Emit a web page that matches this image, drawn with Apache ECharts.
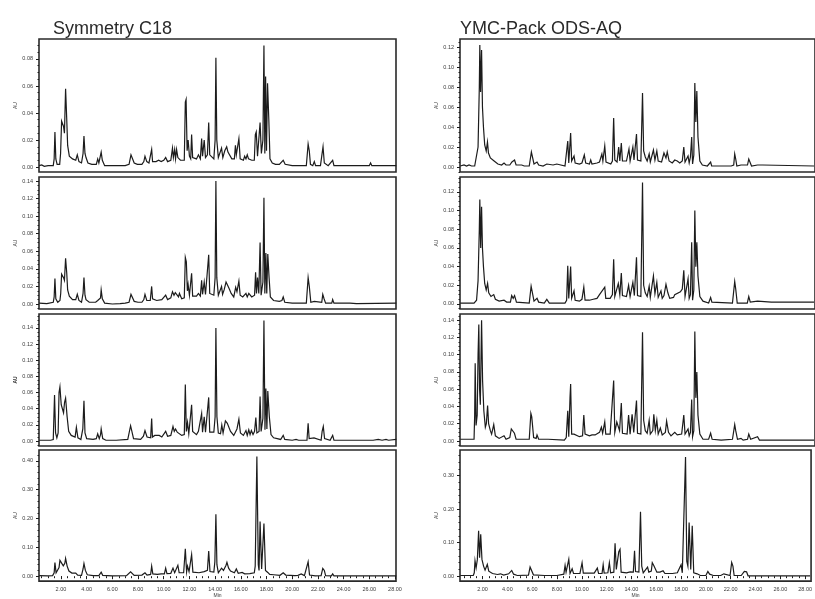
<!DOCTYPE html>
<html><head><meta charset="utf-8">
<style>html,body{margin:0;padding:0;background:#fff;overflow:hidden}#c{width:815px;height:599px}</style>
<script src="https://cdn.jsdelivr.net/npm/echarts@6/dist/echarts.min.js"></script>
</head><body><div id="c"></div>
<script>
const titles = ['Symmetry C18', 'YMC-Pack ODS-AQ'];
const timeTicks = [2,4,6,8,10,12,14,16,18,20,22,24,26,28];
const ticksA = [0,0.02,0.04,0.06,0.08];
const ticksB = [0,0.02,0.04,0.06,0.08,0.10,0.12,0.14];
const ticksC = [0,0.02,0.04,0.06,0.08,0.10,0.12];
const ticksD = [0,0.10,0.20,0.30,0.40];
const ticksE = [0,0.10,0.20,0.30];

const symmetryA = [[0.3,.001],[0.5,.0015],[0.7,.0005],[1.0,.001],[1.4,.001],[1.47,.006],[1.53,.026],[1.6,.006],[1.7,.002],[1.9,.002],[1.97,.01],[2.05,.034],[2.2,.03],[2.27,.025],[2.36,.058],[2.45,.035],[2.52,.016],[2.65,.008],[2.9,.006],[3.15,.005],[3.27,.009],[3.4,.004],[3.6,.003],[3.72,.01],[3.79,.023],[3.87,.01],[3.95,.007],[4.1,.003],[4.4,.002],[4.75,.002],[4.86,.006],[4.95,.003],[5.05,.004],[5.13,.011],[5.22,.005],[5.4,.001],[6.0,.001],[6.5,.001],[7.0,.001],[7.3,.002],[7.45,.009],[7.55,.01],[7.7,.003],[7.95,.002],[8.3,.002],[8.45,.004],[8.54,.008],[8.68,.004],[8.85,.003],[9.0,.004],[9.06,.013],[9.13,.004],[9.4,.004],[9.6,.005],[9.8,.004],[10.0,.005],[10.15,.007],[10.3,.004],[10.55,.005],[10.68,.014],[10.75,.007],[10.85,.013],[10.92,.006],[11.0,.013],[11.1,.007],[11.3,.005],[11.6,.005],[11.68,.048],[11.74,.05],[11.82,.012],[11.9,.02],[12.0,.008],[12.1,.006],[12.17,.024],[12.25,.007],[12.55,.006],[12.7,.009],[12.85,.006],[12.95,.021],[13.02,.008],[13.15,.02],[13.25,.007],[13.4,.009],[13.5,.033],[13.58,.009],[13.9,.006],[14.0,.02],[14.06,.081],[14.13,.02],[14.25,.007],[14.4,.006],[14.5,.014],[14.6,.007],[14.75,.012],[14.9,.015],[15.0,.011],[15.1,.012],[15.3,.006],[15.5,.006],[15.58,.016],[15.65,.009],[15.75,.01],[15.85,.021],[15.95,.006],[16.2,.005],[16.3,.008],[16.4,.006],[16.5,.009],[16.6,.006],[16.7,.007],[16.85,.005],[17.05,.005],[17.13,.024],[17.2,.026],[17.3,.008],[17.42,.009],[17.5,.033],[17.6,.01],[17.72,.02],[17.8,.09],[17.87,.01],[17.93,.067],[18.0,.012],[18.08,.062],[18.18,.035],[18.27,.006],[18.45,.003],[18.7,.002],[19.0,.002],[19.3,.005],[19.45,.002],[20.0,.001],[20.7,.001],[21.1,.001],[21.24,.017],[21.33,.012],[21.42,.002],[21.6,.001],[21.72,.004],[21.82,.001],[22.2,.001],[22.3,.008],[22.4,.015],[22.5,.003],[22.8,.001],[23.15,.005],[23.25,.001],[24,.001],[26.0,.001],[26.1,.003],[26.2,.001],[28.1,.001]];

const symmetryB = [[0.3,.001],[0.9,.0005],[1.4,.002],[1.47,.008],[1.53,.029],[1.6,.006],[1.75,.002],[1.92,.004],[1.98,.012],[2.05,.034],[2.2,.03],[2.27,.027],[2.36,.052],[2.45,.035],[2.52,.016],[2.65,.009],[2.9,.005],[3.15,.005],[3.27,.011],[3.4,.004],[3.6,.002],[3.72,.012],[3.79,.03],[3.87,.01],[3.95,.005],[4.2,.002],[4.7,.002],[4.86,.004],[5.0,.002],[5.08,.007],[5.13,.016],[5.22,.006],[5.4,.001],[6.0,0],[6.6,.0005],[7.0,.001],[7.3,.002],[7.45,.011],[7.55,.012],[7.7,.003],[8.0,.002],[8.3,.002],[8.45,.005],[8.54,.011],[8.68,.004],[8.95,.004],[9.06,.02],[9.13,.006],[9.45,.004],[9.6,.006],[9.85,.005],[10.15,.01],[10.3,.005],[10.55,.007],[10.68,.014],[10.8,.01],[10.9,.013],[11.05,.013],[11.15,.008],[11.22,.012],[11.4,.006],[11.6,.007],[11.68,.053],[11.76,.048],[11.84,.015],[11.9,.022],[12.0,.01],[12.1,.009],[12.17,.035],[12.25,.009],[12.55,.009],[12.7,.012],[12.85,.009],[12.95,.027],[13.02,.011],[13.15,.025],[13.25,.011],[13.4,.011],[13.5,.056],[13.58,.012],[13.9,.01],[14.0,.03],[14.06,.14],[14.13,.03],[14.25,.01],[14.4,.009],[14.5,.02],[14.58,.011],[14.7,.016],[14.85,.025],[14.98,.021],[15.08,.018],[15.25,.012],[15.45,.008],[15.6,.019],[15.7,.014],[15.85,.026],[15.95,.01],[16.15,.008],[16.4,.012],[16.5,.008],[16.62,.012],[16.7,.014],[16.85,.008],[17.07,.01],[17.15,.036],[17.22,.012],[17.3,.03],[17.4,.012],[17.5,.07],[17.58,.01],[17.72,.025],[17.8,.121],[17.87,.012],[17.95,.058],[18.02,.012],[18.1,.057],[18.2,.03],[18.3,.008],[18.4,.006],[18.45,.01],[18.55,.004],[19.0,.003],[19.2,.004],[19.3,.008],[19.42,.002],[20.0,.001],[21.1,.001],[21.24,.03],[21.33,.02],[21.45,.002],[21.72,.003],[21.85,.001],[22.3,.002],[22.38,.011],[22.48,.006],[22.6,.001],[23.08,.001],[23.15,.005],[23.25,.001],[24.5,.001],[25,.0005],[28.1,.001]];

const symmetryC = [[0.3,.001],[1.2,.001],[1.3,.003],[1.4,.002],[1.45,.03],[1.5,.057],[1.58,.01],[1.68,.004],[1.78,.01],[1.85,.06],[1.92,.067],[2.02,.045],[2.12,.043],[2.2,.035],[2.28,.048],[2.36,.053],[2.48,.03],[2.6,.012],[2.8,.007],[3.1,.005],[3.2,.017],[3.32,.004],[3.55,.002],[3.7,.015],[3.79,.05],[3.87,.01],[4.0,.003],[4.5,.002],[4.75,.003],[4.86,.009],[4.98,.003],[5.08,.008],[5.13,.015],[5.25,.003],[5.5,.001],[6.3,.001],[7.2,.002],[7.42,.019],[7.5,.02],[7.65,.003],[8.2,.002],[8.42,.006],[8.54,.013],[8.7,.005],[8.98,.004],[9.06,.028],[9.12,.005],[9.3,.007],[9.45,.005],[9.65,.007],[9.85,.005],[10.15,.012],[10.3,.006],[10.55,.007],[10.72,.018],[10.82,.012],[10.92,.015],[11.05,.011],[11.2,.01],[11.4,.007],[11.6,.008],[11.68,.07],[11.76,.012],[11.85,.023],[11.95,.009],[12.1,.009],[12.17,.045],[12.25,.012],[12.55,.008],[12.7,.012],[12.85,.011],[12.95,.034],[13.02,.011],[13.15,.03],[13.25,.011],[13.4,.012],[13.5,.054],[13.58,.011],[13.9,.011],[14.0,.03],[14.06,.14],[14.14,.03],[14.25,.01],[14.42,.009],[14.52,.02],[14.62,.01],[14.8,.025],[14.95,.022],[15.05,.02],[15.2,.012],[15.45,.007],[15.7,.015],[15.85,.027],[15.97,.01],[16.2,.007],[16.4,.013],[16.5,.007],[16.62,.014],[16.72,.008],[16.82,.013],[16.95,.008],[17.07,.012],[17.17,.029],[17.25,.01],[17.42,.012],[17.5,.055],[17.58,.012],[17.72,.028],[17.8,.149],[17.88,.014],[17.95,.065],[18.03,.015],[18.1,.062],[18.22,.03],[18.35,.008],[18.42,.01],[18.55,.004],[19.1,.002],[19.3,.007],[19.42,.002],[20.0,.001],[20.3,.002],[20.5,.001],[21.15,.001],[21.24,.022],[21.32,.003],[21.7,.004],[21.85,.002],[22.25,.001],[22.33,.012],[22.42,.018],[22.52,.003],[22.95,.001],[23.15,.007],[23.25,.001],[26.0,.001],[26.15,.003],[26.3,.001],[26.7,.002],[27.0,.001],[27.3,.002],[27.5,.001],[28.1,.002]];

const symmetryD = [[0.3,.002],[1.0,.001],[1.35,.002],[1.47,.012],[1.53,.047],[1.62,.012],[1.72,.008],[1.85,.03],[1.92,.055],[2.05,.05],[2.18,.036],[2.3,.045],[2.36,.062],[2.48,.035],[2.62,.018],[2.85,.011],[3.0,.01],[3.15,.011],[3.3,.004],[3.6,.003],[3.72,.025],[3.79,.044],[3.9,.02],[4.05,.005],[4.5,.002],[4.95,.002],[5.07,.008],[5.13,.014],[5.25,.003],[6.0,.001],[7.1,.002],[7.42,.015],[7.55,.015],[7.7,.003],[8.3,.004],[8.54,.012],[8.7,.004],[8.98,.006],[9.06,.035],[9.15,.008],[9.5,.006],[9.8,.008],[10.05,.008],[10.15,.028],[10.25,.009],[10.55,.01],[10.72,.028],[10.85,.012],[11.0,.015],[11.1,.038],[11.2,.012],[11.55,.012],[11.68,.095],[11.78,.015],[11.85,.035],[11.97,.016],[12.1,.013],[12.17,.075],[12.27,.014],[12.75,.012],[13.15,.016],[13.4,.02],[13.5,.087],[13.6,.016],[13.9,.014],[13.98,.05],[14.06,.215],[14.14,.04],[14.25,.012],[14.4,.015],[14.5,.028],[14.65,.02],[14.85,.038],[14.92,.048],[15.05,.028],[15.2,.018],[15.5,.012],[15.65,.025],[15.8,.01],[16.1,.013],[16.3,.008],[16.7,.009],[17.05,.012],[17.12,.035],[17.25,.415],[17.36,.04],[17.42,.02],[17.5,.19],[17.62,.025],[17.72,.03],[17.8,.183],[17.92,.02],[18.1,.013],[18.25,.006],[18.4,.012],[18.55,.005],[19.05,.003],[19.3,.012],[19.5,.004],[20.2,.002],[20.45,.003],[20.7,.008],[20.95,.002],[21.1,.004],[21.24,.05],[21.35,.004],[21.8,.001],[22.25,.002],[22.38,.027],[22.5,.02],[22.6,.002],[23.05,.001],[23.15,.008],[23.25,.001],[28.1,.001]];

const ymcA = [[0.2,.001],[0.5,.002],[0.7,.001],[0.9,.002],[1.1,.001],[1.35,.001],[1.5,.003],[1.62,.02],[1.72,.08],[1.76,.122],[1.82,.075],[1.9,.117],[1.97,.06],[2.05,.04],[2.15,.022],[2.27,.016],[2.32,.017],[2.37,.025],[2.45,.014],[2.6,.009],[2.9,.006],[3.2,.003],[3.5,.002],[3.69,.004],[3.85,.002],[4.15,.002],[4.32,.005],[4.42,.004],[4.53,.007],[4.65,.002],[4.9,.002],[5.0,.003],[5.1,.002],[5.2,.003],[5.3,.001],[5.7,.001],[5.87,.015],[5.95,.013],[6.08,.003],[6.2,.002],[6.32,.005],[6.45,.002],[6.8,.001],[7.1,.003],[7.25,.001],[7.6,.002],[7.9,.003],[8.0,.001],[8.55,.001],[8.65,.003],[8.77,.026],[8.85,.004],[8.93,.005],[9.0,.034],[9.08,.006],[9.18,.004],[9.27,.011],[9.36,.004],[9.7,.003],[9.9,.004],[10.09,.012],[10.2,.004],[10.5,.003],[10.6,.007],[10.7,.003],[11.1,.004],[11.3,.005],[11.49,.013],[11.57,.006],[11.72,.021],[11.82,.005],[12.2,.003],[12.33,.006],[12.43,.049],[12.52,.007],[12.7,.005],[12.83,.02],[12.92,.006],[13.04,.024],[13.13,.006],[13.45,.006],[13.65,.018],[13.74,.006],[13.96,.02],[14.05,.007],[14.25,.033],[14.33,.007],[14.6,.006],[14.73,.074],[14.82,.016],[14.95,.01],[15.1,.006],[15.26,.013],[15.35,.005],[15.5,.005],[15.6,.017],[15.72,.007],[15.87,.016],[15.98,.006],[16.25,.005],[16.44,.014],[16.6,.009],[16.7,.015],[16.85,.006],[17.1,.004],[17.3,.007],[17.5,.006],[17.7,.004],[17.9,.006],[18.02,.02],[18.12,.005],[18.25,.004],[18.36,.011],[18.45,.004],[18.55,.01],[18.65,.03],[18.72,.003],[18.82,.012],[18.9,.084],[18.98,.045],[19.06,.076],[19.15,.03],[19.3,.006],[19.5,.002],[19.9,.001],[20.16,.005],[20.24,.001],[21.8,.001],[22.0,.002],[22.08,.013],[22.16,.008],[22.25,.001],[22.58,.002],[22.7,.001],[23.1,.002],[23.2,.008],[23.3,.006],[23.42,.001],[23.9,.002],[24.0,.001],[24.3,.002],[24.4,.001],[28.4,.001]];

const ymcB = [[0.2,.001],[1.3,.001],[1.5,.004],[1.62,.025],[1.72,.08],[1.76,.112],[1.83,.06],[1.9,.104],[1.97,.06],[2.05,.04],[2.15,.022],[2.27,.015],[2.32,.016],[2.38,.022],[2.47,.012],[2.65,.008],[2.87,.01],[3.0,.005],[3.3,.003],[3.69,.004],[3.9,.002],[4.2,.002],[4.3,.009],[4.42,.006],[4.53,.009],[4.68,.002],[5.7,.001],[5.85,.019],[5.95,.017],[6.08,.003],[6.2,.002],[6.32,.006],[6.45,.002],[6.9,.001],[7.1,.005],[7.3,.001],[8.55,.001],[8.68,.004],[8.77,.041],[8.85,.006],[8.93,.005],[9.0,.04],[9.08,.006],[9.18,.004],[9.27,.014],[9.36,.004],[9.7,.003],[9.9,.005],[10.05,.018],[10.15,.004],[10.5,.004],[10.6,.006],[10.8,.005],[11.1,.006],[11.3,.01],[11.45,.008],[11.72,.018],[11.8,.006],[12.15,.006],[12.33,.01],[12.43,.048],[12.52,.008],[12.65,.01],[12.8,.022],[12.92,.01],[13.04,.033],[13.13,.009],[13.45,.008],[13.62,.02],[13.74,.008],[13.96,.023],[14.08,.009],[14.25,.05],[14.33,.009],[14.6,.008],[14.73,.13],[14.82,.02],[14.95,.012],[15.1,.008],[15.26,.019],[15.35,.007],[15.5,.009],[15.6,.03],[15.72,.011],[15.87,.023],[15.98,.007],[16.2,.014],[16.3,.006],[16.44,.009],[16.6,.021],[16.75,.012],[16.9,.006],[17.2,.007],[17.3,.01],[17.45,.008],[17.75,.013],[17.9,.016],[18.02,.036],[18.12,.008],[18.25,.007],[18.36,.027],[18.45,.006],[18.55,.01],[18.65,.066],[18.72,.004],[18.82,.015],[18.9,.1],[18.98,.04],[19.06,.066],[19.15,.03],[19.3,.008],[19.55,.003],[20.0,.001],[20.16,.007],[20.26,.002],[21.9,.001],[22.08,.024],[22.16,.016],[22.28,.001],[23.08,.001],[23.2,.008],[23.32,.002],[23.9,.003],[24.05,.001],[25,.002],[28.4,.002]];

const ymcC = [[0.2,.002],[0.9,.002],[1.3,.002],[1.35,.03],[1.39,.09],[1.46,.018],[1.55,.03],[1.62,.1],[1.68,.135],[1.74,.06],[1.8,.042],[1.9,.14],[1.98,.07],[2.08,.035],[2.2,.016],[2.28,.02],[2.38,.041],[2.46,.02],[2.6,.012],[2.7,.008],[2.87,.019],[3.0,.006],[3.3,.003],[3.69,.006],[3.85,.002],[4.15,.004],[4.27,.014],[4.4,.012],[4.52,.009],[4.65,.002],[5.0,.002],[5.1,.004],[5.25,.002],[5.7,.002],[5.83,.032],[5.9,.028],[6.05,.004],[6.25,.003],[6.32,.007],[6.45,.002],[6.85,.002],[7.0,.004],[7.2,.002],[8.5,.001],[8.65,.004],[8.77,.035],[8.85,.005],[8.95,.05],[9.0,.066],[9.08,.008],[9.18,.006],[9.27,.008],[9.7,.005],[9.95,.006],[10.05,.03],[10.15,.008],[10.5,.006],[10.7,.007],[10.95,.007],[11.1,.009],[11.3,.01],[11.45,.016],[11.55,.009],[11.72,.022],[11.8,.008],[12.15,.008],[12.3,.01],[12.43,.07],[12.52,.01],[12.68,.022],[12.8,.024],[12.9,.012],[13.04,.044],[13.13,.009],[13.5,.008],[13.62,.03],[13.74,.008],[13.9,.031],[14.03,.01],[14.25,.047],[14.33,.009],[14.6,.008],[14.73,.126],[14.82,.024],[14.95,.012],[15.1,.009],[15.26,.024],[15.35,.008],[15.55,.012],[15.63,.031],[15.75,.012],[15.87,.024],[15.98,.008],[16.15,.015],[16.3,.007],[16.55,.01],[16.65,.023],[16.8,.01],[17.0,.006],[17.3,.01],[17.5,.007],[17.85,.008],[18.02,.03],[18.12,.008],[18.25,.006],[18.36,.014],[18.45,.006],[18.55,.01],[18.65,.048],[18.72,.005],[18.82,.012],[18.9,.127],[18.98,.05],[19.06,.08],[19.15,.03],[19.3,.008],[19.55,.002],[20.0,.002],[20.16,.009],[20.28,.002],[21.0,.001],[21.9,.002],[22.08,.019],[22.16,.012],[22.3,.002],[22.58,.003],[22.75,.001],[23.1,.002],[23.2,.008],[23.35,.002],[23.9,.005],[24.05,.001],[28.4,.001]];

const ymcD = [[0.2,.002],[1.25,.002],[1.33,.01],[1.39,.046],[1.48,.025],[1.58,.05],[1.68,.135],[1.76,.055],[1.85,.125],[1.95,.05],[2.08,.03],[2.2,.018],[2.38,.035],[2.5,.015],[2.8,.008],[3.2,.005],[3.45,.007],[3.7,.003],[4.1,.007],[4.35,.017],[4.5,.006],[4.8,.002],[5.7,.003],[5.83,.027],[5.95,.024],[6.1,.004],[7.0,.002],[8.0,.002],[8.55,.006],[8.65,.032],[8.73,.012],[8.95,.05],[9.05,.008],[9.22,.022],[9.33,.008],[9.85,.008],[10.02,.04],[10.12,.009],[10.5,.009],[10.65,.011],[11.0,.009],[11.25,.024],[11.35,.008],[11.63,.008],[11.72,.034],[11.8,.009],[12.1,.01],[12.22,.04],[12.32,.01],[12.58,.012],[12.68,.098],[12.78,.02],[12.85,.016],[12.98,.073],[13.08,.08],[13.17,.012],[13.6,.01],[13.9,.013],[14.15,.012],[14.25,.076],[14.33,.014],[14.6,.012],[14.73,.192],[14.83,.03],[14.95,.01],[15.1,.009],[15.3,.027],[15.4,.012],[15.6,.015],[15.68,.04],[15.8,.032],[15.95,.03],[16.05,.012],[16.3,.012],[16.55,.016],[16.7,.008],[17.3,.008],[17.7,.01],[17.85,.012],[18.0,.034],[18.1,.01],[18.25,.012],[18.36,.355],[18.46,.045],[18.55,.03],[18.65,.16],[18.78,.02],[18.9,.15],[19.02,.01],[19.3,.007],[19.55,.002],[20.0,.002],[20.16,.014],[20.3,.006],[20.45,.007],[20.6,.002],[21.2,.002],[21.45,.007],[21.6,.002],[21.95,.002],[22.08,.041],[22.18,.03],[22.28,.002],[22.85,.002],[23.1,.014],[23.28,.013],[23.4,.001],[23.8,.001],[23.9,.005],[24.05,.001],[28.4,.001]];

const traces = [
  {data:symmetryA, col:0, top:39,  bottom:172, min:-0.0037, max:0.0948, ticks:ticksA, minor:0.005},
  {data:symmetryB, col:0, top:177, bottom:309, min:-0.0057, max:0.1446, ticks:ticksB, minor:0.005},
  {data:symmetryC, col:0, top:314, bottom:446, min:-0.0061, max:0.1572, ticks:ticksB, minor:0.005, bold:true},
  {data:symmetryD, col:0, top:450, bottom:583, min:-0.017,  max:0.4376, ticks:ticksD, minor:0.02, last:true},
  {data:ymcA, col:1, top:39,  bottom:172, min:-0.005,  max:0.128,  ticks:ticksC, minor:0.005},
  {data:ymcB, col:1, top:177, bottom:309, min:-0.0054, max:0.136,  ticks:ticksC, minor:0.005},
  {data:ymcC, col:1, top:314, bottom:446, min:-0.0058, max:0.1472, ticks:ticksB, minor:0.005},
  {data:ymcD, col:1, top:450, bottom:583, min:-0.0147, max:0.376,  ticks:ticksE, minor:0.02, last:true}
];
const cols = [{left:39, width:357, tmin:0.29, tmax:28.08, nameX:216},{left:460, width:358, tmin:0.18, tmax:28.48}];
const INK = '#1c1c1c', TXT = '#3a3a3a', FONT = '"Liberation Sans", Arial, sans-serif';

function minorValues(axisMin, axisMax, step){
  const out=[]; const n=Math.ceil(axisMin/step);
  for(let i=n; i*step<=axisMax; i++) out.push(+(i*step).toFixed(4));
  return out;
}
const timeMinor = minorValues(0.5, 28, 0.5);

const grid=[], xAxis=[], yAxis=[], series=[];
traces.forEach((t,i)=>{
  const c=cols[t.col];
  grid.push({left:c.left, width:c.width, top:t.top, height:t.bottom-t.top, show:true, borderColor:'#2a2a2a', borderWidth:1.6, backgroundColor:'#fff'});
  const xBase={type:'value', gridIndex:i, min:c.tmin, max:c.tmax, position:'bottom', splitLine:{show:false}, axisLine:{show:false}};
  xAxis.push({...xBase, name:t.last?'Min':'', nameLocation:'middle', nameGap:11,
    nameTextStyle:{fontSize:5,color:TXT,fontFamily:FONT},
    axisTick:{show:!!t.last, length:3, customValues:timeTicks, lineStyle:{color:INK,width:1}},
    axisLabel:{show:!!t.last, customValues:timeTicks, fontSize:5.5, margin:5, color:TXT, fontFamily:FONT, formatter:v=>v.toFixed(2)}});
  xAxis.push({...xBase, axisLabel:{show:false}, axisTick:{show:!!t.last, length:2, customValues:timeMinor, lineStyle:{color:INK,width:1}}});
  const yBase={type:'value', gridIndex:i, min:t.min, max:t.max, position:'left', splitLine:{show:false}, axisLine:{show:false}};
  yAxis.push({...yBase, name:'AU', nameLocation:'middle', nameGap:19, nameRotate:90,
    nameTextStyle:{fontSize:5,color:TXT,fontFamily:FONT,fontWeight:t.bold?'bold':'normal'},
    axisTick:{show:true, length:3, customValues:t.ticks, lineStyle:{color:INK,width:1}},
    axisLabel:{show:true, customValues:t.ticks, fontSize:5.5, margin:6, color:TXT, fontFamily:FONT, formatter:v=>v.toFixed(2)}});
  yAxis.push({...yBase, axisLabel:{show:false}, axisTick:{show:true, length:1.5, customValues:minorValues(t.min,t.max,t.minor), lineStyle:{color:INK,width:1}}});
  series.push({type:'line', xAxisIndex:i*2, yAxisIndex:i*2, data:t.data, showSymbol:false, symbol:'none', animation:false,
    lineStyle:{color:INK,width:1.2,join:'miter'}, emphasis:{disabled:true}, clip:true});
});

const chart=echarts.init(document.getElementById('c'),null,{renderer:'canvas'});
chart.setOption({
  animation:false, backgroundColor:'#fff',
  title:[
    {text:titles[0], left:48, top:15, textStyle:{fontFamily:FONT,fontSize:18,fontWeight:'normal',color:'#2a2a2a'}},
    {text:titles[1], left:455, top:15, textStyle:{fontFamily:FONT,fontSize:18,fontWeight:'normal',color:'#2a2a2a'}}
  ],
  grid, xAxis, yAxis, series
});
</script></body></html>
